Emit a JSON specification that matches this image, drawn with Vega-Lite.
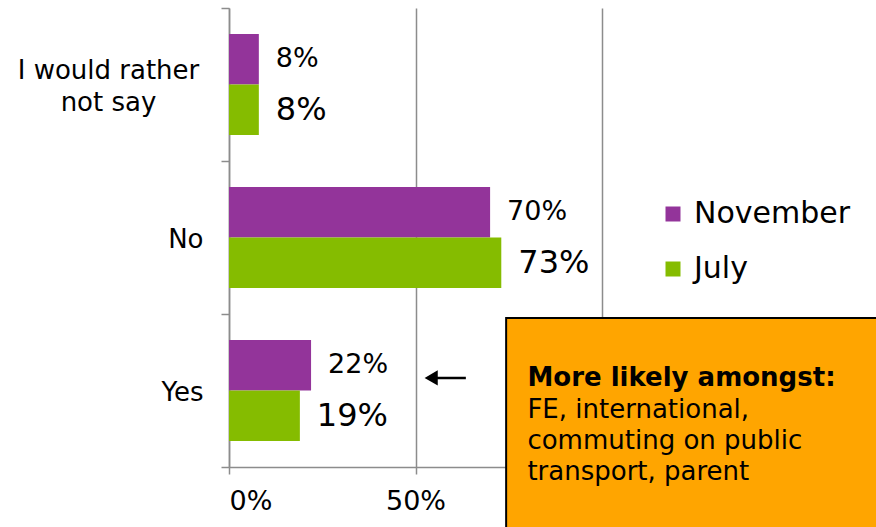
{
  "$schema": "https://vega.github.io/schema/vega-lite/v6.json",
  "width": 373,
  "height": 459,
  "autosize": {"type": "none"},
  "padding": {"left": 229, "top": 8, "right": 274, "bottom": 60},
  "background": "white",
  "config": {
    "font": "DejaVu Sans",
    "view": {"stroke": null},
    "legend": {"padding": 0}
  },
  "layer": [
    {
      "data": {
        "values": [
          {"category": "I would rather not say", "series": "November", "value": 0.08},
          {"category": "I would rather not say", "series": "July", "value": 0.08},
          {"category": "No", "series": "November", "value": 0.70},
          {"category": "No", "series": "July", "value": 0.73},
          {"category": "Yes", "series": "November", "value": 0.22},
          {"category": "Yes", "series": "July", "value": 0.19}
        ]
      },
      "encoding": {
        "y": {
          "field": "category",
          "type": "nominal",
          "sort": ["I would rather not say", "No", "Yes"],
          "scale": {"paddingInner": 0, "paddingOuter": 0},
          "axis": {
            "title": null,
            "tickBand": "extent",
            "tickSize": 8,
            "tickColor": "#8c8c8c",
            "tickWidth": 1.5,
            "domainColor": "#8c8c8c",
            "domainWidth": 1.5,
            "labelFontSize": 26,
            "labelColor": "#000000",
            "labelLimit": 400,
            "labelLineHeight": 32,
            "labelExpr": "datum.value == 'I would rather not say' ? ['I would rather', 'not say'] : datum.value",
            "labelAlign": {"condition": {"test": "datum.value == 'I would rather not say'", "value": "center"}, "value": "right"},
            "labelPadding": {"condition": {"test": "datum.value == 'I would rather not say'", "value": 113}, "value": 18},
            "labelOffset": {"condition": {"test": "datum.value == 'I would rather not say'", "value": -14}, "value": 2}
          }
        },
        "yOffset": {
          "field": "series",
          "type": "nominal",
          "sort": ["November", "July"],
          "scale": {"domain": ["November", "July"], "paddingInner": 0, "paddingOuter": 0.515}
        },
        "x": {
          "field": "value",
          "type": "quantitative",
          "scale": {"domain": [0, 1], "nice": false},
          "axis": {
            "title": null,
            "values": [0, 0.5, 1],
            "format": ".0%",
            "grid": true,
            "gridColor": "#8c8c8c",
            "gridWidth": 1.5,
            "domainColor": "#8c8c8c",
            "domainWidth": 1.5,
            "tickColor": "#8c8c8c",
            "tickWidth": 1.5,
            "tickSize": 7,
            "labelFontSize": 27,
            "labelColor": "#000000",
            "labelPadding": 14
          }
        }
      },
      "layer": [
        {
          "mark": {"type": "bar"},
          "encoding": {
            "color": {
              "field": "series",
              "type": "nominal",
              "scale": {"domain": ["November", "July"], "range": ["#93349a", "#85bc00"]},
              "legend": {
                "title": null,
                "orient": "none",
                "legendX": 429,
                "legendY": 191,
                "symbolType": "square",
                "symbolSize": 225,
                "symbolStrokeWidth": 0,
                "labelFontSize": 30,
                "labelColor": "#000000",
                "labelOffset": 6,
                "rowPadding": 25
              }
            }
          }
        },
        {
          "transform": [{"filter": "datum.series == 'November'"}],
          "mark": {"type": "text", "align": "left", "baseline": "middle", "dx": 17, "fontSize": 27, "color": "#000000"},
          "encoding": {"text": {"field": "value", "type": "quantitative", "format": ".0%"}}
        },
        {
          "transform": [{"filter": "datum.series == 'July'"}],
          "mark": {"type": "text", "align": "left", "baseline": "middle", "dx": 17, "fontSize": 32, "color": "#000000"},
          "encoding": {"text": {"field": "value", "type": "quantitative", "format": ".0%"}}
        }
      ]
    },
    {
      "data": {"values": [{}]},
      "layer": [
        {
          "mark": {"type": "rect", "color": "#ffa500", "stroke": "#000000", "strokeWidth": 2},
          "encoding": {
            "x": {"datum": 0.743, "type": "quantitative"},
            "x2": {"datum": 1.8},
            "y": {"datum": 0.974, "type": "quantitative", "scale": {"domain": [0, 3], "nice": false, "zero": false}, "axis": null},
            "y2": {"datum": -0.6}
          }
        },
        {
          "mark": {"type": "text", "text": "More likely amongst:", "align": "left", "baseline": "alphabetic", "fontSize": 26, "fontWeight": "bold", "color": "#000000"},
          "encoding": {
            "x": {"datum": 0.8, "type": "quantitative"},
            "y": {"datum": 0.529, "type": "quantitative"}
          }
        },
        {
          "mark": {"type": "text", "text": ["FE, international,", "commuting on public", "transport, parent"], "align": "left", "baseline": "alphabetic", "fontSize": 26, "lineHeight": 31, "color": "#000000"},
          "encoding": {
            "x": {"datum": 0.8, "type": "quantitative"},
            "y": {"datum": 0.32, "type": "quantitative"}
          }
        },
        {
          "mark": {"type": "rule", "color": "#000000", "strokeWidth": 2.5},
          "encoding": {
            "x": {"datum": 0.54, "type": "quantitative"},
            "x2": {"datum": 0.635},
            "y": {"datum": 0.582, "type": "quantitative"}
          }
        },
        {
          "mark": {"type": "point", "shape": "triangle-left", "filled": true, "color": "#000000", "size": 230, "opacity": 1},
          "encoding": {
            "x": {"datum": 0.542, "type": "quantitative"},
            "y": {"datum": 0.582, "type": "quantitative"}
          }
        }
      ]
    }
  ],
  "resolve": {"scale": {"y": "independent"}}
}
